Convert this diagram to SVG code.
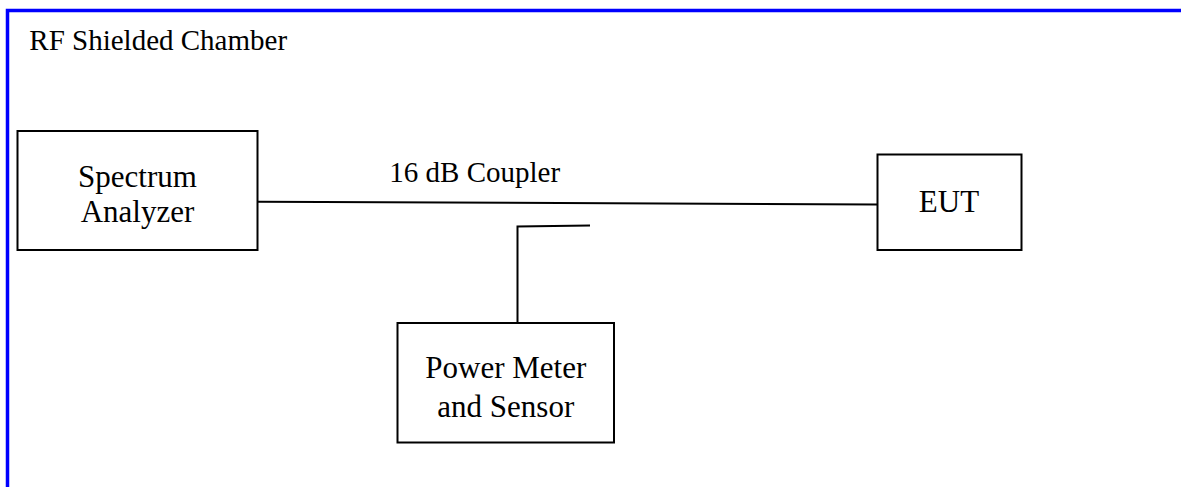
<svg xmlns="http://www.w3.org/2000/svg" width="1181" height="487" viewBox="0 0 1181 487">
<style>
.box{fill:#fff;stroke:#000;stroke-width:2}
.lbl{font-size:31px;fill:#000;text-anchor:middle}
.txt{font-size:29px;fill:#000}
.wire{fill:none;stroke:#000;stroke-width:2}
</style>
<rect width="1181" height="487" fill="#fff"/>
<g font-family="Liberation Serif, Times New Roman, serif">
<g id="chamber">
<path d="M7.5 500 V10.5 H1200" fill="none" stroke="#0000FF" stroke-width="3.5"/>
<text class="txt" x="29.3" y="50">RF Shielded Chamber</text>
</g>
<g id="connectors">
<line class="wire" x1="258" y1="201.7" x2="877" y2="204.5"/>
<polyline class="wire" points="590,225.5 517.5,226.5 517.5,323"/>
<text class="txt" x="389.3" y="182.3">16 dB Coupler</text>
</g>
<g id="spectrum-analyzer">
<rect class="box" x="17.5" y="131" width="240" height="119"/>
<text class="lbl" x="137.5" y="186.7">Spectrum</text>
<text class="lbl" x="137.5" y="221.7">Analyzer</text>
</g>
<g id="eut">
<rect class="box" x="877.5" y="154.5" width="144" height="95.5"/>
<text class="lbl" x="949" y="211.7">EUT</text>
</g>
<g id="power-meter">
<rect class="box" x="397.5" y="323" width="216.5" height="119.5"/>
<text class="lbl" x="505.8" y="378.3">Power Meter</text>
<text class="lbl" x="505.8" y="416.7">and Sensor</text>
</g>
</g>
</svg>
